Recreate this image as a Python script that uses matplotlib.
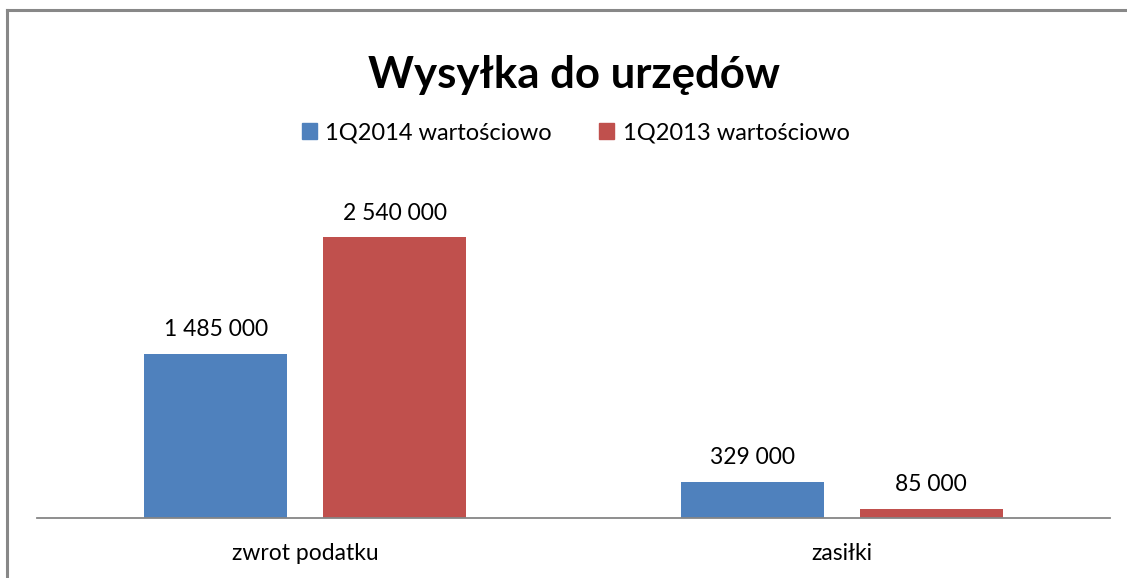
import numpy as np
import matplotlib.pyplot as plt
from matplotlib.patches import Patch
from matplotlib.lines import Line2D

categories = ['zwrot podatku', 'zasiłki']
series_names = ['1Q2014 wartościowo', '1Q2013 wartościowo']
values_2014 = [1485000, 329000]
values_2013 = [2540000, 85000]
colors = ['#4F81BD', '#C0504D']

plt.rcParams['font.family'] = ['Lato', 'DejaVu Sans']

W, H = 1127, 578
fig = plt.figure(figsize=(W / 100, H / 100), dpi=100)

# plot area in pixel coords
left, right, bottom, top = 37, 1110, 518, 186
ax = fig.add_axes([left / W, 1 - bottom / H, (right - left) / W, (bottom - top) / H])

x = np.arange(len(categories))
bw = 0.2667
off = (bw + 0.0667) / 2
for i, (vals, c) in enumerate(zip([values_2014, values_2013], colors)):
    pos = x - off if i == 0 else x + off
    bars = ax.bar(pos, vals, width=bw, color=c, label=series_names[i])
    for b, v in zip(bars, vals):
        lab = f'{v:,}'.replace(',', ' ')
        ax.annotate(lab, (b.get_x() + b.get_width() / 2, v), xytext=(0, 9.5),
                    textcoords='offset points', ha='center', va='bottom',
                    fontsize=16.5, color='black')

ax.set_xlim(-0.5, 1.5)
ax.set_ylim(0, 3000000)
for s in ['top', 'right', 'left']:
    ax.spines[s].set_visible(False)
ax.spines['bottom'].set_color('#868686')
ax.spines['bottom'].set_linewidth(1.3)
ax.set_yticks([])
ax.set_xticks(x)
ax.set_xticklabels(categories, fontsize=16.5)
ax.tick_params(axis='x', length=0, pad=18)

fig.text(0.509, 1 - 75 / H, 'Wysyłka do urzędów', ha='center', va='center',
         fontsize=31.5, fontweight='bold')

handles = [Patch(color=c) for c in colors]
fig.legend(handles, series_names, loc='center', bbox_to_anchor=(575.5 / W, 1 - 133 / H),
           ncol=2, frameon=False, fontsize=17, handlelength=0.65, handleheight=0.65,
           handletextpad=0.35, columnspacing=2.0)

# outer chart border (clipped by image edges)
fig.add_artist(Line2D([7 / W, 1], [1 - 9.5 / H, 1 - 9.5 / H], color='#888888', lw=2.2,
                      transform=fig.transFigure))
fig.add_artist(Line2D([7 / W, 7 / W], [1 - 9.5 / H, 0], color='#888888', lw=2.2,
                      transform=fig.transFigure))

fig.savefig('out.png', dpi=100)
